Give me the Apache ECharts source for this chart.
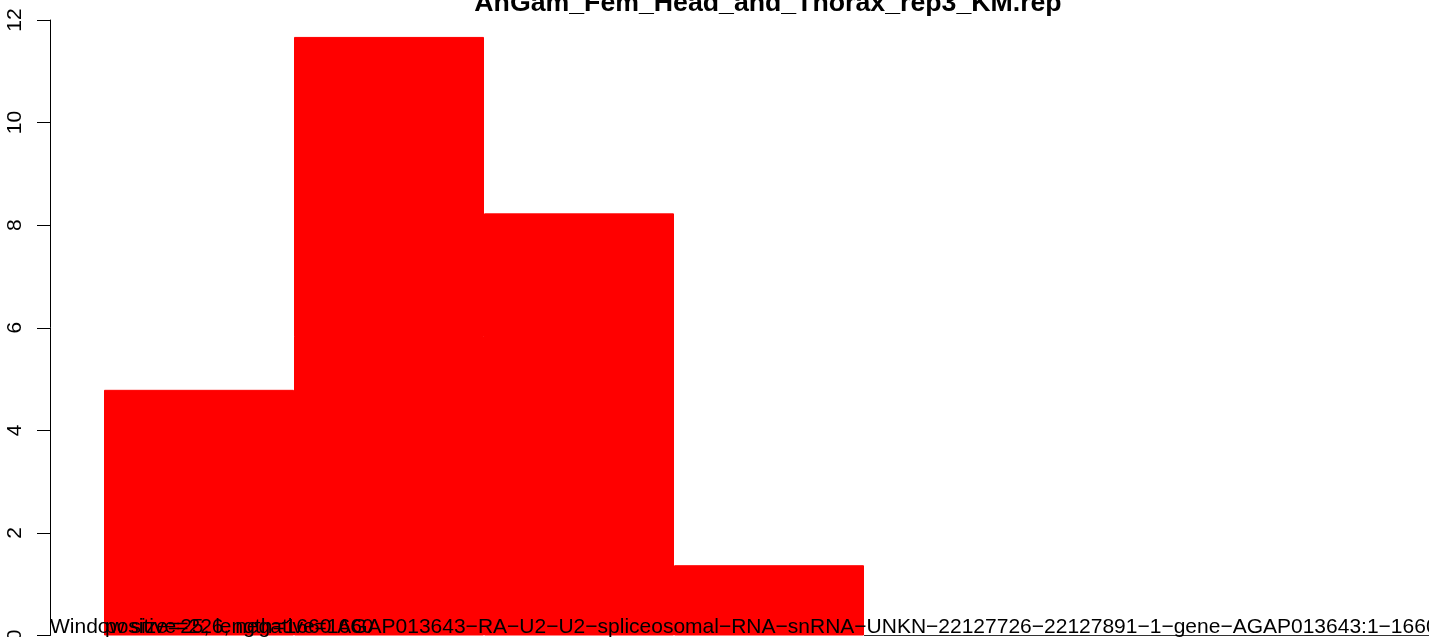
<!DOCTYPE html>
<html>
<head>
<meta charset="utf-8">
<script src="https://cdn.jsdelivr.net/npm/echarts@6/dist/echarts.min.js"></script>
<style>
  html, body { margin: 0; padding: 0; background: #ffffff; }
  #chart { width: 1429px; height: 637px; }
</style>
</head>
<body>
<div id="chart"></div>
<script>
// Bar heights per window (7 windows, last three empty)
const categories = ['1', '2', '3', '4', '5', '6', '7'];
const values = [4.79, 11.67, 8.23, 1.37, 0, 0, 0];
const yTicks = [0, 2, 4, 6, 8, 10, 12];

const titleText = 'AnGam_Fem_Head_and_Thorax_rep3_KM.rep';
const windowText = 'Window size=25, length=1660 AGAP013643\u2212RA\u2212U2\u2212U2\u2212spliceosomal\u2212RNA\u2212snRNA\u2212UNKN\u221222127726\u221222127891\u22121\u2212gene\u2212AGAP013643:1\u22121660';
const countText = 'positive=226, negative=1660';

const FONT = 'Liberation Sans, Arial, Helvetica, sans-serif';

const chart = echarts.init(document.getElementById('chart'), null, { renderer: 'canvas' });

chart.setOption({
  animation: false,
  backgroundColor: '#ffffff',
  title: {
    text: titleText,
    left: 763,
    textAlign: 'center',
    top: -15,
    textStyle: { fontFamily: FONT, fontSize: 26.7, fontWeight: 'bold', color: '#000000' }
  },
  grid: { left: 104, right: -5, top: 20, bottom: 1.5, containLabel: false, outerBoundsMode: 'none' },
  xAxis: {
    type: 'category',
    data: categories,
    boundaryGap: true,
    axisLine: { show: false },
    axisTick: { show: false },
    axisLabel: { show: false },
    splitLine: { show: false }
  },
  yAxis: {
    type: 'value',
    min: 0,
    max: 12,
    interval: 2,
    offset: 54,
    axisLine: { show: true, lineStyle: { color: '#000000', width: 1 } },
    axisTick: { show: true, length: 13, lineStyle: { color: '#000000', width: 1 } },
    axisLabel: {
      show: true,
      rotate: 90,
      margin: 24,
      fontFamily: FONT,
      fontSize: 21,
      color: '#000000',
      customValues: yTicks
    },
    splitLine: { show: false }
  },
  series: [{
    type: 'bar',
    data: values.map(v => v === 0
      ? { value: v, itemStyle: { color: '#ff0000', borderColor: '#333333', borderWidth: 1 } }
      : v),
    barWidth: '100%',
    barGap: '0%',
    itemStyle: { color: '#ff0000', borderColor: '#ff0000', borderWidth: 1 },
    silent: true
  }],
  graphic: [
    {
      type: 'text', x: 50, y: 627, z: 100,
      style: { text: windowText, font: '21px ' + FONT, fill: '#000000', align: 'left', verticalAlign: 'middle' }
    },
    {
      type: 'text', x: 105, y: 627, z: 100,
      style: { text: countText, font: '21px ' + FONT, fill: '#000000', align: 'left', verticalAlign: 'middle' }
    }
  ]
});
</script>
</body>
</html>
